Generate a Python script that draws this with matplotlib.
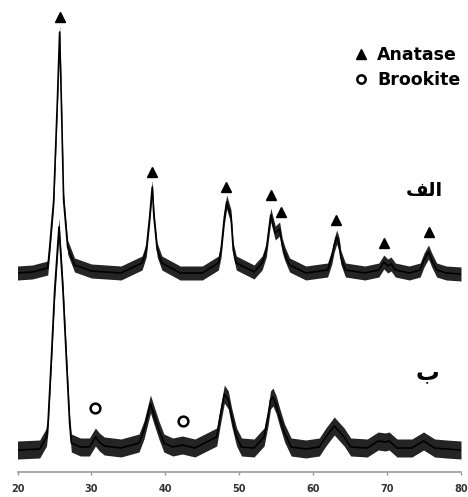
import matplotlib
matplotlib.use("Agg")
import matplotlib.pyplot as plt
import numpy as np

# ---------------- data ----------------
# upper pattern (الف): 2theta and intensity above its own baseline
two_theta_a = [20.0, 22.0, 24.09, 24.36, 24.90, 25.40, 25.70, 25.93, 26.24, 26.78, 27.72,
               30.0, 34.0, 36.85, 37.42, 37.88, 38.23, 38.46, 38.90, 39.53, 42.0, 45.0,
               47.18, 47.54, 47.99, 48.30, 48.89, 49.19, 49.60, 52.0, 53.09, 53.66, 54.26,
               54.87, 55.46, 55.81, 56.13, 56.81, 59.0, 61.95, 62.52, 62.85, 63.19, 63.52,
               63.73, 64.36, 67.0, 68.89, 69.56, 70.09, 70.54, 71.11, 73.0, 74.47, 75.0,
               75.60, 76.04, 76.71, 78.0, 80.0]
intensity_a = [0, 1, 5, 26, 73, 173, 241, 173, 73, 26, 8,
               2, 0, 10, 23, 56, 86, 56, 23, 10, 0, 0,
               10, 23, 56, 71, 56, 23, 10, 1, 10, 23, 58,
               40, 44, 28, 20, 8, 0, 3, 16, 28, 36, 28,
               16, 3, 0, 3, 11, 7, 9, 3, 0, 3, 13,
               21, 13, 3, 0, -1]

# lower pattern (ب)
two_theta_b = [20.0, 23.0, 23.92, 24.13, 24.59, 25.03, 25.61, 26.15, 26.60, 27.05, 27.28,
               28.5, 29.73, 30.54, 31.07, 31.74, 34.0, 36.44, 37.11, 37.99, 38.46, 39.13,
               39.80, 41.0, 42.3, 44.0, 46.95, 47.41, 47.99, 48.52, 48.97, 49.64, 50.31,
               52.0, 53.36, 53.89, 54.23, 54.56, 55.01, 55.46, 56.13, 57.02, 59.0, 60.83,
               61.72, 62.85, 64.19, 65.08, 67.32, 68.79, 69.73, 70.27, 71.34, 73.36, 74.93,
               76.44, 78.0, 80.0]
intensity_b = [0, 1, 13, 27, 93, 160, 223, 160, 93, 27, 7,
               3, 3, 13, 8, 4, 2, 7, 20, 46, 35, 20,
               7, 3, 5, 2, 13, 33, 56, 50, 33, 13, 3,
               2, 13, 33, 50, 53, 45, 33, 17, 3, 1, 3,
               13, 24, 13, 3, 2, 9, 8, 9, 2, 2, 9,
               2, 1, 0]

offset_a = 199
offset_b = 22

# phase markers
anatase_x = [25.70, 38.19, 48.26, 54.26, 55.64, 63.15, 69.60, 75.64]
anatase_y = [455, 300, 285, 277, 260, 252, 229, 240]
brookite_x = [30.54, 42.35]
brookite_y = [64, 51]

xticks = [20, 30, 40, 50, 60, 70, 80]
legend_labels = ["Anatase", "Brookite"]
label_a = "\uFED2\uFEDF\uFE8D"   # الف (visual order, shaped forms)
label_b = "\u0628"               # ب

# ---------------- figure ----------------
W, H = 468, 497
fig = plt.figure(figsize=(W / 100, H / 100), dpi=100)
ax = fig.add_axes([17.5 / W, 25 / H, (461 - 17.5) / W, 472 / H])
ax.set_xlim(20, 80)
ax.set_ylim(0, 472)

noise_a = 7
noise_b = 9
for tt, inten, off, nz in [(two_theta_a, intensity_a, offset_a, noise_a),
                           (two_theta_b, intensity_b, offset_b, noise_b)]:
    y = np.asarray(inten, float) + off
    ax.fill_between(tt, y - nz, y + nz, color="#111111", lw=0, alpha=0.92)
    ax.plot(tt, y, color="black", lw=1.2)

ax.plot(anatase_x, anatase_y, ls="none", marker="^", ms=7, color="black", clip_on=False)
ax.plot(brookite_x, brookite_y, ls="none", marker="o", ms=7, mfc="white",
        mec="black", mew=1.8, clip_on=False)

for s in ["left", "right", "top"]:
    ax.spines[s].set_visible(False)
ax.spines["bottom"].set_color("#9a9a9a")
ax.spines["bottom"].set_linewidth(1.2)
ax.set_yticks([])
ax.set_xticks(xticks)
ax.set_xticklabels([str(t) for t in xticks], fontsize=7, color="#333333",
                   fontweight="bold")
ax.tick_params(axis="x", length=2.5, width=1, color="#9a9a9a", pad=6)

# legend
h1, = ax.plot([], [], ls="none", marker="^", ms=7, color="black")
h2, = ax.plot([], [], ls="none", marker="o", ms=6, mfc="white", mec="black", mew=1.8)
ax.legend([h1, h2], legend_labels, loc="upper left",
          bbox_to_anchor=(345 / W, 1 - 37 / H), bbox_transform=fig.transFigure,
          frameon=False, prop={"weight": "bold", "size": 12.5},
          handlelength=0.8, handletextpad=0.55, labelspacing=0.4, borderpad=0)

ax.text(75.0, 282, label_a, fontsize=14, fontweight="bold", ha="center", va="center",
        family=["DejaVu Sans"])
ax.text(75.4, 100, label_b, fontsize=17, fontweight="bold", ha="center", va="center",
        family=["DejaVu Sans"])

fig.savefig("out.png", dpi=100)
